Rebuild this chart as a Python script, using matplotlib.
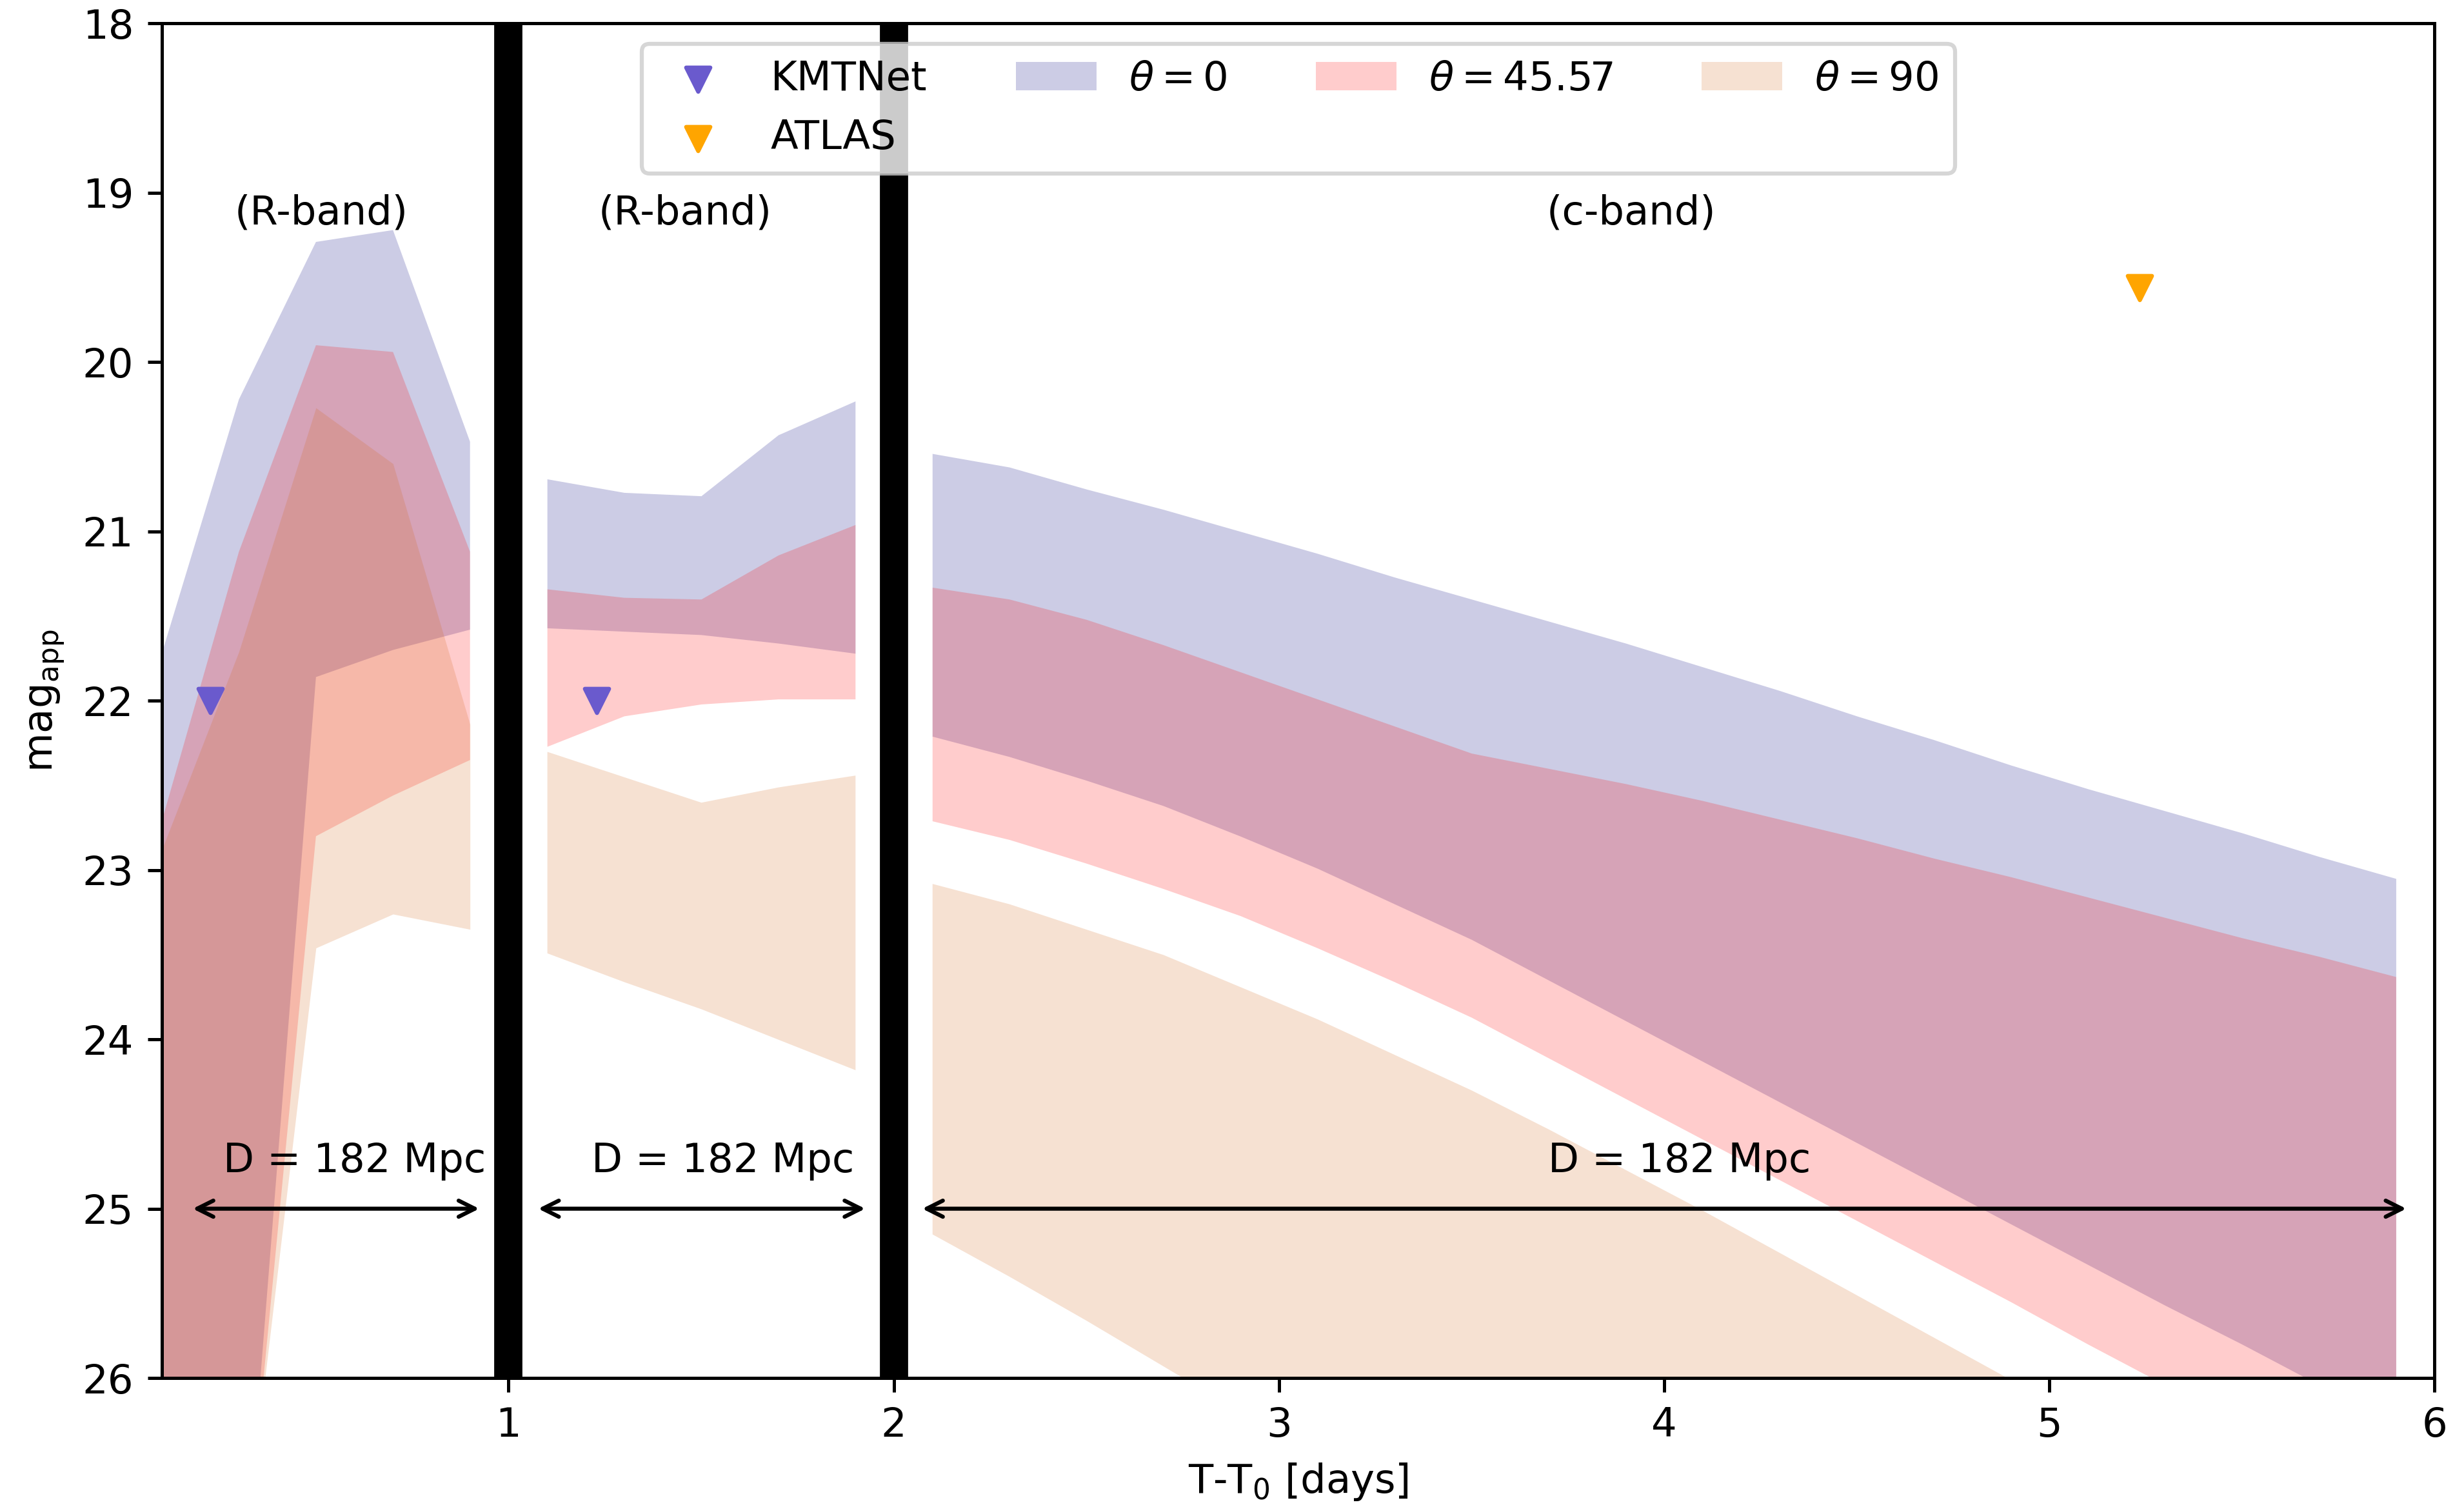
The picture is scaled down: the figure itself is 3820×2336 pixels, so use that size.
import matplotlib
matplotlib.use("Agg")
import matplotlib.pyplot as plt

# time grids for the three windows (days after T0)
t_win1 = [0.1, 0.3, 0.5, 0.7, 0.9]
t_win2 = [1.1, 1.3, 1.5, 1.7, 1.9]
t_win3 = [2.1, 2.3, 2.5, 2.7, 2.9, 3.1, 3.3, 3.5, 3.7, 3.9,
          4.1, 4.3, 4.5, 4.7, 4.9, 5.1, 5.3, 5.5, 5.7, 5.9]

# window 1 (R-band)
th0_hi_1 = [21.72, 20.22, 19.29, 19.22, 20.47]
th0_lo_1 = [29.0, 27.6, 21.86, 21.70, 21.58]
th45_hi_1 = [22.71, 21.12, 19.90, 19.94, 21.12]
th45_lo_1 = [29.0, 27.5, 22.80, 22.56, 22.35]
th90_hi_1 = [22.88, 21.71, 20.27, 20.60, 22.14]
th90_lo_1 = [29.0, 27.3, 23.46, 23.26, 23.35]

# window 2 (R-band)
th0_hi_2 = [20.69, 20.77, 20.79, 20.43, 20.23]
th0_lo_2 = [21.57, 21.59, 21.61, 21.66, 21.72]
th45_hi_2 = [21.34, 21.39, 21.40, 21.14, 20.96]
th45_lo_2 = [22.27, 22.09, 22.02, 21.99, 21.99]
th90_hi_2 = [22.30, 22.45, 22.60, 22.51, 22.44]
th90_lo_2 = [23.49, 23.66, 23.82, 24.00, 24.18]

# window 3 (c-band)
th0_hi_3 = [20.54, 20.62, 20.75, 20.87, 21.00, 21.13, 21.27, 21.40, 21.53, 21.66,
            21.80, 21.94, 22.09, 22.23, 22.38, 22.52, 22.65, 22.78, 22.92, 23.05]
th0_lo_3 = [22.21, 22.33, 22.47, 22.62, 22.80, 22.99, 23.20, 23.41, 23.65, 23.89,
            24.13, 24.37, 24.61, 24.85, 25.09, 25.33, 25.57, 25.80, 26.04, 26.28]
th45_hi_3 = [21.33, 21.40, 21.52, 21.67, 21.83, 21.99, 22.15, 22.31, 22.40, 22.49,
             22.59, 22.70, 22.81, 22.93, 23.04, 23.16, 23.28, 23.40, 23.51, 23.63]
th45_lo_3 = [22.71, 22.82, 22.96, 23.11, 23.27, 23.46, 23.66, 23.87, 24.11, 24.35,
             24.59, 24.83, 25.07, 25.31, 25.55, 25.80, 26.04, 26.29, 26.53, 26.78]
th90_hi_3 = [23.08, 23.20, 23.35, 23.50, 23.69, 23.88, 24.09, 24.30, 24.53, 24.77,
             25.01, 25.26, 25.51, 25.76, 26.01, 26.26, 26.51, 26.76, 27.01, 27.26]
th90_lo_3 = [25.15, 25.40, 25.66, 25.93, 26.20, 26.50, 26.80, 27.10, 27.40, 27.70,
             28.00, 28.30, 28.60, 28.90, 29.20, 29.50, 29.80, 30.10, 30.40, 30.70]

# observed upper limits
kmt_t = [0.226, 1.229]
kmt_mag = [22.0, 22.0]
atlas_t = [5.235]
atlas_mag = [19.56]

fig = plt.figure(figsize=(3820 / 450, 2336 / 450), dpi=450)
ax = fig.add_axes([0.0657, 0.0856, 0.9223, 0.8988])

wins = [(t_win1, th0_hi_1, th0_lo_1, th45_hi_1, th45_lo_1, th90_hi_1, th90_lo_1),
        (t_win2, th0_hi_2, th0_lo_2, th45_hi_2, th45_lo_2, th90_hi_2, th90_lo_2),
        (t_win3, th0_hi_3, th0_lo_3, th45_hi_3, th45_lo_3, th90_hi_3, th90_lo_3)]
for i, (t, a1, a2, b1, b2, c1, c2) in enumerate(wins):
    ax.fill_between(t, a1, a2, color="navy", alpha=0.2, lw=0,
                    label=r"$\theta = 0$" if i == 0 else None)
    ax.fill_between(t, b1, b2, color="red", alpha=0.2, lw=0,
                    label=r"$\theta = 45.57$" if i == 0 else None)
    ax.fill_between(t, c1, c2, color="chocolate", alpha=0.2, lw=0,
                    label=r"$\theta = 90$" if i == 0 else None)

ax.scatter(kmt_t, kmt_mag, marker="v", color="slateblue", label="KMTNet", zorder=3)
ax.scatter(atlas_t, atlas_mag, marker="v", color="orange", label="ATLAS", zorder=3)

ax.axvline(1, color="k", lw=7)
ax.axvline(2, color="k", lw=7)

# distance arrows
for x0, x1 in [(0.18, 0.924), (1.077, 1.926), (2.074, 5.927)]:
    ax.annotate("", xy=(x1, 25), xytext=(x0, 25),
                arrowprops=dict(arrowstyle="<->", color="k", lw=1,
                                shrinkA=0, shrinkB=0))
for xc in [0.6, 1.557, 4.04]:
    ax.text(xc, 24.72, "D = 182 Mpc", ha="center", va="center")

ax.text(0.514, 19.12, "(R-band)", ha="center", va="center")
ax.text(1.459, 19.12, "(R-band)", ha="center", va="center")
ax.text(3.915, 19.12, "(c-band)", ha="center", va="center")

ax.set_xlim(0.1, 6)
ax.set_ylim(26, 18)
ax.set_xlabel(r"T-T$_0$ [days]")
ax.set_ylabel(r"mag$_{\rm app}$")

h, l = ax.get_legend_handles_labels()
order = [3, 4, 0, 1, 2]
ax.legend([h[k] for k in order], [l[k] for k in order], loc="upper center",
          ncol=4, columnspacing=2.2)

fig.savefig("out.png", dpi=450)
